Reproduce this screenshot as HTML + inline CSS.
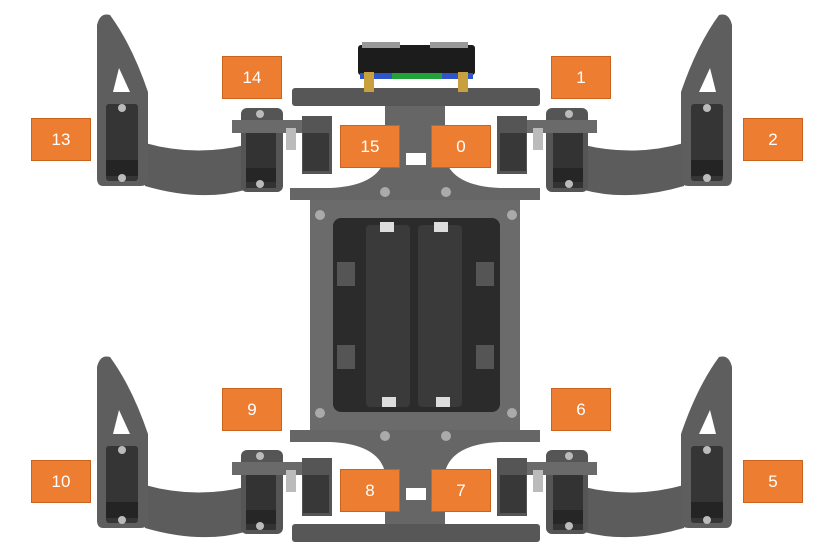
<!DOCTYPE html>
<html><head><meta charset="utf-8"><style>
html,body{margin:0;padding:0;background:#fff;}
#wrap{position:relative;width:829px;height:545px;overflow:hidden;background:#fff;}
svg{position:absolute;left:0;top:0;}
.lbl{position:absolute;width:60px;height:43px;background:#ED7D31;border:1px solid #C9631E;box-sizing:border-box;color:#fff;font-family:"Liberation Sans",sans-serif;font-size:17px;display:flex;align-items:center;justify-content:center;}
</style></head><body>
<div id="wrap">
<svg width="829" height="545">
<defs>
<g id="leg">
  <path d="M145,143 Q195,157 245,145 L245,190 Q200,202 145,186 Z" fill="#5c5c5c"/>
  <path d="M97,25 Q100,12 110,15 Q132,45 148,92 L148,180 Q148,186 140,186 L103,186 Q97,186 97,178 Z" fill="#5e5e5e"/>
  <path d="M119,68 L130,92 L113,92 Z" fill="#fff"/>
  <rect x="106" y="104" width="32" height="77" rx="3" fill="#353535"/>
  <rect x="106" y="160" width="32" height="16" fill="#242424"/>
  <circle cx="122" cy="108" r="4" fill="#bbb"/><circle cx="122" cy="178" r="4" fill="#bbb"/>
  <rect x="241" y="108" width="42" height="84" rx="6" fill="#555"/>
  <rect x="232" y="120" width="72" height="13" fill="#6a6a6a"/>
  <rect x="246" y="133" width="30" height="55" fill="#333"/>
  <rect x="246" y="168" width="30" height="14" fill="#262626"/>
  <circle cx="260" cy="114" r="4" fill="#bbb"/><circle cx="260" cy="184" r="4" fill="#bbb"/>
  <rect x="302" y="116" width="30" height="58" fill="#555"/>
  <rect x="303" y="133" width="26" height="38" fill="#383838"/>
  <rect x="286" y="128" width="10" height="22" fill="#bbb"/>
</g>
<g id="neck">
  <path d="M385,100 L445,100 L445,158 Q452,186 500,188 L540,188 L540,200 L290,200 L290,188 L330,188 Q378,186 385,158 Z" fill="#666"/>
  <rect x="292" y="88" width="248" height="18" rx="3" fill="#575757"/>
  <rect x="402" y="153" width="36" height="0" fill="#fff"/>
</g>
</defs>
<rect x="310" y="190" width="210" height="250" fill="#6b6b6b"/>
<use href="#neck"/>
<use href="#neck" transform="translate(0,630) scale(1,-1)"/>
<rect x="406" y="153" width="20" height="12" fill="#fff"/>
<rect x="406" y="488" width="20" height="12" fill="#fff"/>
<rect x="333" y="218" width="167" height="194" rx="8" fill="#2b2b2b"/>
<rect x="366" y="225" width="44" height="182" rx="4" fill="#3a3a3a"/>
<rect x="418" y="225" width="44" height="182" rx="4" fill="#3a3a3a"/>
<rect x="380" y="222" width="14" height="10" fill="#ddd"/><rect x="434" y="222" width="14" height="10" fill="#ddd"/>
<rect x="382" y="397" width="14" height="10" fill="#ddd"/><rect x="436" y="397" width="14" height="10" fill="#ddd"/>
<rect x="337" y="262" width="18" height="24" fill="#555"/><rect x="337" y="345" width="18" height="24" fill="#555"/>
<rect x="476" y="262" width="18" height="24" fill="#555"/><rect x="476" y="345" width="18" height="24" fill="#555"/>
<circle cx="385" cy="192" r="5" fill="#aaa"/><circle cx="446" cy="192" r="5" fill="#aaa"/>
<circle cx="320" cy="215" r="5" fill="#aaa"/><circle cx="512" cy="215" r="5" fill="#aaa"/>
<circle cx="320" cy="413" r="5" fill="#aaa"/><circle cx="512" cy="413" r="5" fill="#aaa"/>
<circle cx="385" cy="436" r="5" fill="#aaa"/><circle cx="446" cy="436" r="5" fill="#aaa"/>
<rect x="358" y="45" width="117" height="30" rx="3" fill="#1c1c1c"/>
<rect x="362" y="42" width="38" height="6" fill="#999"/><rect x="430" y="42" width="38" height="6" fill="#999"/>
<rect x="360" y="73" width="113" height="6" fill="#2f55c8"/>
<rect x="392" y="73" width="50" height="6" fill="#22a33a"/>
<rect x="364" y="72" width="10" height="20" fill="#c8a040"/><rect x="458" y="72" width="10" height="20" fill="#c8a040"/>
<use href="#leg"/>
<use href="#leg" transform="translate(829,0) scale(-1,1)"/>
<use href="#leg" transform="translate(0,342)"/>
<use href="#leg" transform="translate(829,342) scale(-1,1)"/>
</svg>
<div class="lbl" style="left:222px;top:56px">14</div>
<div class="lbl" style="left:551px;top:56px">1</div>
<div class="lbl" style="left:31px;top:118px">13</div>
<div class="lbl" style="left:743px;top:118px">2</div>
<div class="lbl" style="left:340px;top:125px">15</div>
<div class="lbl" style="left:431px;top:125px">0</div>
<div class="lbl" style="left:222px;top:388px">9</div>
<div class="lbl" style="left:551px;top:388px">6</div>
<div class="lbl" style="left:31px;top:460px">10</div>
<div class="lbl" style="left:743px;top:460px">5</div>
<div class="lbl" style="left:340px;top:469px">8</div>
<div class="lbl" style="left:431px;top:469px">7</div>
</div>
</body></html>
